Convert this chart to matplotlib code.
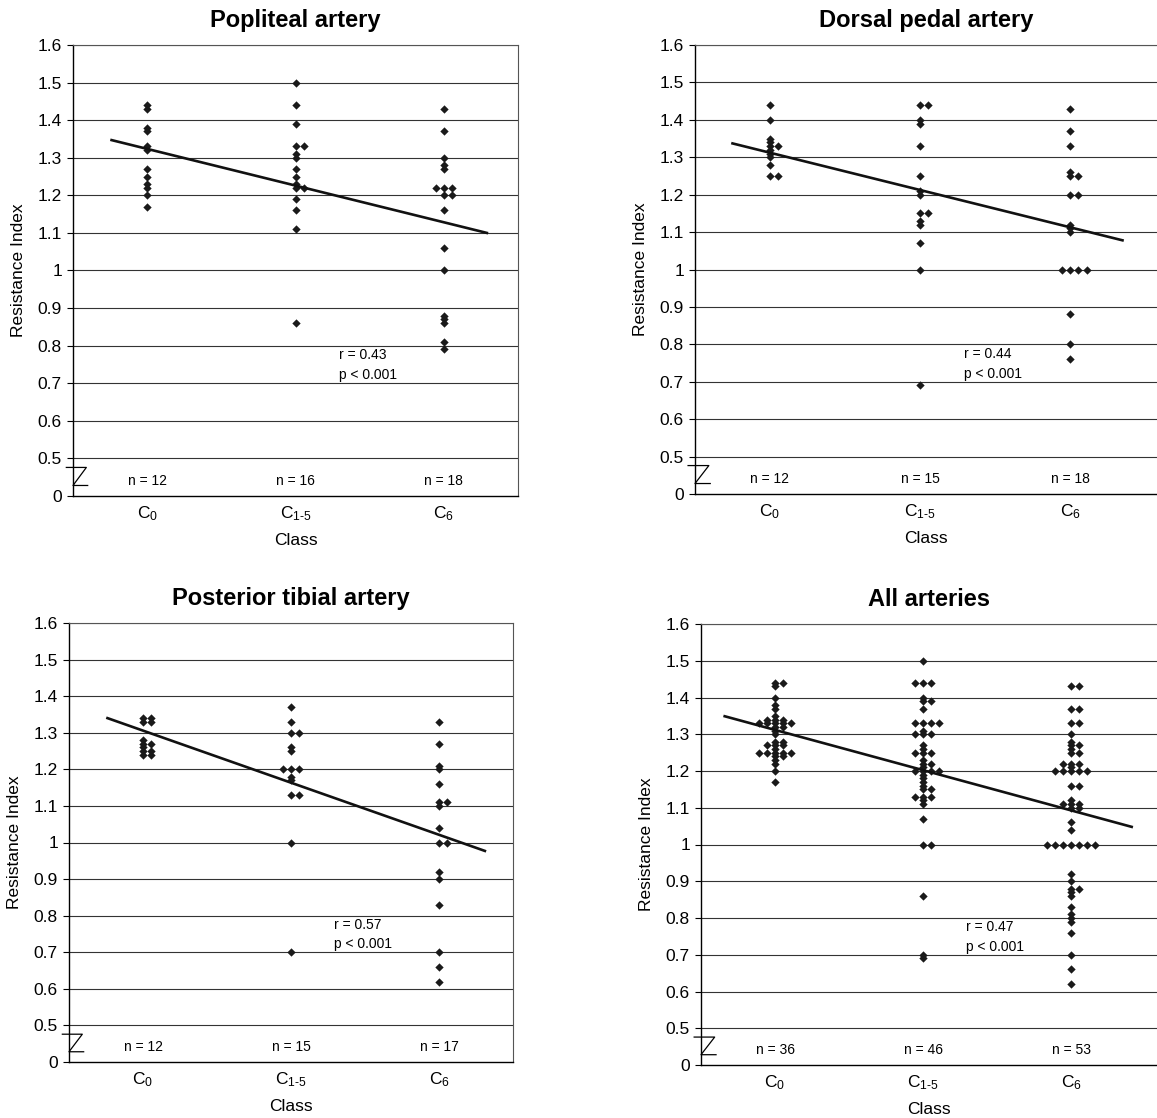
import matplotlib
matplotlib.use("Agg")
import matplotlib.pyplot as plt
import matplotlib.transforms as mtransforms

plt.rcParams["font.family"] = ["Liberation Sans", "DejaVu Sans"]
plt.rcParams["mathtext.fontset"] = "custom"
plt.rcParams["mathtext.rm"] = "Liberation Sans"
plt.rcParams["mathtext.it"] = "Liberation Sans"
plt.rcParams["mathtext.default"] = "regular"

# categories and axis labels
classes = [r"C$_0$", "C$_{1\u20105}$", r"C$_6$"]
grid_ticks = [0.5, 0.6, 0.7, 0.8, 0.9, 1.0, 1.1, 1.2, 1.3, 1.4, 1.5, 1.6]
grid_labels = ["0.5", "0.6", "0.7", "0.8", "0.9", "1", "1.1", "1.2", "1.3", "1.4", "1.5", "1.6"]

# resistance index per class
popliteal_c0 = [1.44, 1.43, 1.38, 1.37, 1.33, 1.32, 1.27, 1.25, 1.23, 1.22, 1.20, 1.17]
popliteal_c15 = [1.50, 1.44, 1.39, 1.33, 1.33, 1.31, 1.30, 1.27, 1.25, 1.23, 1.22, 1.22,
                 1.19, 1.16, 1.11, 0.86]
popliteal_c6 = [1.43, 1.37, 1.30, 1.28, 1.27, 1.22, 1.22, 1.22, 1.20, 1.20, 1.16, 1.06,
                1.00, 0.88, 0.87, 0.86, 0.81, 0.79]

dorsal_c0 = [1.44, 1.40, 1.35, 1.34, 1.33, 1.33, 1.32, 1.31, 1.30, 1.28, 1.25, 1.25]
dorsal_c15 = [1.44, 1.44, 1.40, 1.39, 1.33, 1.25, 1.21, 1.20, 1.15, 1.15, 1.13, 1.12,
              1.07, 1.00, 0.69]
dorsal_c6 = [1.43, 1.37, 1.33, 1.26, 1.25, 1.25, 1.20, 1.20, 1.12, 1.11, 1.10,
             1.00, 1.00, 1.00, 1.00, 0.88, 0.80, 0.76]

tibial_c0 = [1.34, 1.34, 1.33, 1.33, 1.28, 1.27, 1.27, 1.26, 1.25, 1.25, 1.24, 1.24]
tibial_c15 = [1.37, 1.33, 1.30, 1.30, 1.26, 1.25, 1.20, 1.20, 1.20, 1.18, 1.17,
              1.13, 1.13, 1.00, 0.70]
tibial_c6 = [1.33, 1.27, 1.21, 1.20, 1.16, 1.11, 1.11, 1.10, 1.04, 1.00, 1.00,
             0.92, 0.90, 0.83, 0.70, 0.66, 0.62]

all_c0 = popliteal_c0 + dorsal_c0 + tibial_c0
all_c15 = popliteal_c15 + dorsal_c15 + tibial_c15
all_c6 = popliteal_c6 + dorsal_c6 + tibial_c6

# trend line end points (class position, RI)
popliteal_trend_x = [0.76, 3.29]
popliteal_trend_y = [1.347, 1.100]
dorsal_trend_x = [0.75, 3.35]
dorsal_trend_y = [1.337, 1.078]
tibial_trend_x = [0.76, 3.31]
tibial_trend_y = [1.340, 0.977]
all_trend_x = [0.66, 3.41]
all_trend_y = [1.349, 1.048]

titles = ["Popliteal artery", "Dorsal pedal artery", "Posterior tibial artery", "All arteries"]
r_values = ["r = 0.43", "r = 0.44", "r = 0.57", "r = 0.47"]
p_values = ["p < 0.001", "p < 0.001", "p < 0.001", "p < 0.001"]

panels = [
    ([popliteal_c0, popliteal_c15, popliteal_c6], popliteal_trend_x, popliteal_trend_y),
    ([dorsal_c0, dorsal_c15, dorsal_c6], dorsal_trend_x, dorsal_trend_y),
    ([tibial_c0, tibial_c15, tibial_c6], tibial_trend_x, tibial_trend_y),
    ([all_c0, all_c15, all_c6], all_trend_x, all_trend_y),
]


def spread(values, center, step=0.055):
    # put equal values side by side, like the dot columns of the original
    counts = {v: values.count(v) for v in values}
    seen = {}
    xs = []
    for v in values:
        k = seen.get(v, 0)
        seen[v] = k + 1
        xs.append(center + (k - (counts[v] - 1) // 2) * step)
    return xs


W, H = 1157, 1118
fig = plt.figure(figsize=(W / 100, H / 100), dpi=100)

# axes boxes in pixels: left, top, right, bottom
boxes = [(73, 45, 518, 496), (695, 45, 1157, 494), (69, 623, 513, 1062), (701, 624, 1157, 1065)]
col_width = [445, 450, 444, 444]

for i, (groups, tx, ty) in enumerate(panels):
    l, t, r, b = boxes[i]
    ax = fig.add_axes([l / W, 1 - b / H, (r - l) / W, (b - t) / H])
    ax.set_xlim(0.5, 0.5 + 3 * (r - l) / col_width[i])
    ax.set_ylim(0.40, 1.6)

    for y in grid_ticks:
        ax.axhline(y, color="#333333", lw=0.8, zorder=1)

    for k, vals in enumerate(groups):
        ax.scatter(spread(vals, k + 1), vals, marker="D", s=18, color="#1a1a1a",
                   linewidths=0, zorder=3)
        ax.text(k + 1, 0.44, "n = %d" % len(vals), ha="center", va="center", fontsize=10)

    ax.plot(tx, ty, color="#111111", lw=1.9, zorder=4)

    ax.text(2.29, 0.775, r_values[i], fontsize=10, va="center")
    ax.text(2.29, 0.722, p_values[i], fontsize=10, va="center")

    ax.set_yticks([0.40] + grid_ticks)
    ax.set_yticklabels(["0"] + grid_labels, fontsize=12.5)
    ax.set_xticks([1, 2, 3])
    ax.set_xticklabels(classes, fontsize=12.5)
    ax.tick_params(axis="x", length=0, pad=6)
    ax.tick_params(axis="y", length=4, width=0.8, pad=4)

    ax.set_title(titles[i], fontsize=17, fontweight="bold", pad=13)
    ax.set_ylabel("Resistance Index", fontsize=12.5, labelpad=8)
    ax.set_xlabel("Class", fontsize=12.5, labelpad=7)

    for side in ["top", "right"]:
        ax.spines[side].set_color("#555555")
        ax.spines[side].set_linewidth(0.8)
    if i in (1, 3):
        ax.spines["right"].set_visible(False)
    ax.spines["left"].set_linewidth(1.0)
    ax.spines["bottom"].set_linewidth(1.0)

    # axis break mark between 0 and 0.5
    trans = mtransforms.blended_transform_factory(ax.transAxes, ax.transData)
    ax.plot([-0.015, 0.03, 0.0, 0.033], [0.476, 0.476, 0.428, 0.428], color="black",
            lw=0.9, transform=trans, clip_on=False, zorder=5)

fig.savefig("out.png", dpi=100, facecolor="white")
